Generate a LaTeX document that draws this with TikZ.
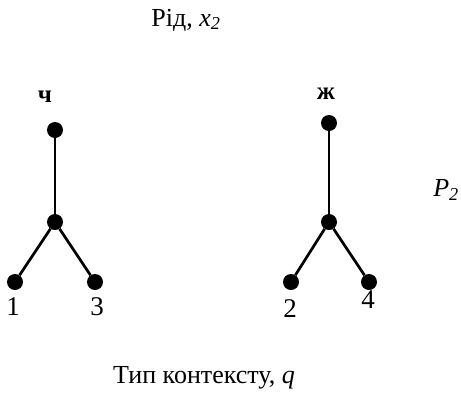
\documentclass[tikz,border=0pt]{standalone}
\usepackage{fontspec}
\setmainfont{Liberation Serif}
\usetikzlibrary{positioning}

\begin{document}
\begin{tikzpicture}[x=1pt, y=-1pt,
    vertexDot/.style={circle, fill=black, inner sep=0pt, minimum size=16pt},
    treeEdge/.style={line width=2.7pt},
    axisLabel/.style={font=\fontsize{26}{30}\selectfont, inner sep=0pt},
    genderLabel/.style={font=\fontsize{25}{30}\selectfont\bfseries, inner sep=0pt},
    leafLabel/.style={font=\fontsize{27}{32}\selectfont, inner sep=0pt},
]
\useasboundingbox (0,0) rectangle (461,397);
% axis labels
\node[axisLabel] (rid) at (186, 20) {Рід, \textit{x}\textsubscript{\textit{2}}};
\node[axisLabel] (ptwo) at (446, 190) {\textit{P}\textsubscript{\textit{2}}};
\node[axisLabel] (typ) at (204, 378) {Тип контексту, \textit{q}};
% left tree
\node[genderLabel] (masc) at (45, 97) {ч};
\node[vertexDot] (mTop) at (55, 130) {};
\node[vertexDot] (mMid) at (55, 222) {};
\node[vertexDot] (mLeft) at (15, 282) {};
\node[vertexDot] (mRight) at (95, 282) {};
\node[leafLabel] (one) at (13, 307) {1};
\node[leafLabel] (three) at (97, 307) {3};
\draw[treeEdge] (mTop) -- (mMid);
\draw[treeEdge] (mMid) -- (mLeft);
\draw[treeEdge] (mMid) -- (mRight);
% right tree
\node[genderLabel] (fem) at (326, 94) {ж};
\node[vertexDot] (fTop) at (329, 123) {};
\node[vertexDot] (fMid) at (329, 222) {};
\node[vertexDot] (fLeft) at (291, 282) {};
\node[vertexDot] (fRight) at (369, 282) {};
\node[leafLabel] (two) at (290, 309) {2};
\node[leafLabel] (four) at (368, 300) {4};
\draw[treeEdge] (fTop) -- (fMid);
\draw[treeEdge] (fMid) -- (fLeft);
\draw[treeEdge] (fMid) -- (fRight);
\end{tikzpicture}
\end{document}
